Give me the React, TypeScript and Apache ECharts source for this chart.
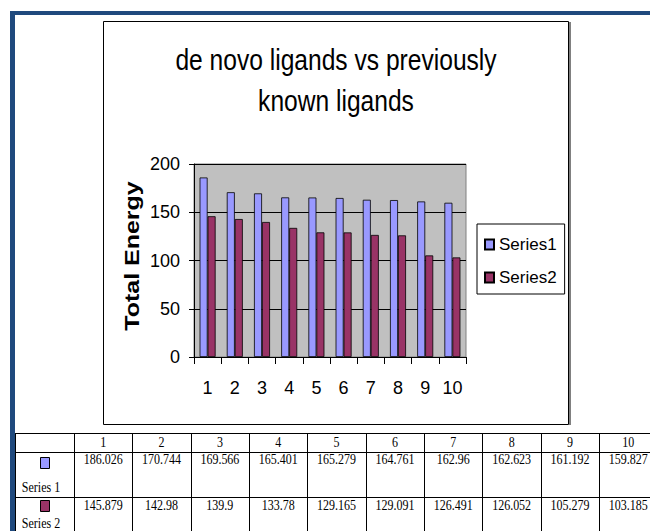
import React, { useEffect, useRef } from "react";
import * as echarts from "echarts";

const categories = ["1", "2", "3", "4", "5", "6", "7", "8", "9", "10"];
const series1 = [186.026, 170.744, 169.566, 165.401, 165.279, 164.761, 162.96, 162.623, 161.192, 159.827];
const series2 = [145.879, 142.98, 139.9, 133.78, 129.165, 129.091, 126.491, 126.052, 105.279, 103.185];
const seriesNames = ["Series1", "Series2"];
const tableRowLabels = ["Series 1", "Series 2"];
const seriesColors = ["#9999FF", "#993366"];
const titleText = "de novo ligands vs previously\nknown ligands";
const yAxisName = "Total Energy";
const yMin = 0;
const yMax = 200;
const yInterval = 50;

const SANS = "'Liberation Sans', Arial, sans-serif";
const SERIF = "'Liberation Serif', 'Times New Roman', serif";

function buildTable(): any[] {
  const els: any[] = [];
  const left = 15;
  const firstColRight = 74;
  const colW = 58.35;
  const top = 433;
  const row1 = 452;
  const row2 = 497;
  const bottom = 531;
  const right = 650;
  const line = (x1: number, y1: number, x2: number, y2: number) => ({
    type: "line",
    shape: { x1, y1, x2, y2 },
    style: { stroke: "#000", lineWidth: 1 },
    silent: true,
  });
  const txt = (x: number, y: number, text: string) => ({
    type: "text",
    x,
    y,
    scaleX: 0.8,
    silent: true,
    style: {
      text,
      x: 0,
      y: 0,
      fill: "#000",
      font: `15px ${SERIF}`,
      align: "center",
      verticalAlign: "middle",
      textAlign: "center",
      textVerticalAlign: "middle",
    },
  });
  [top, row1, row2].forEach((y) => els.push(line(left, y + 0.5, right, y + 0.5)));
  els.push(line(left + 0.5, top, left + 0.5, bottom));
  for (let i = 0; i <= categories.length; i++) {
    const x = Math.round(firstColRight + i * colW) + 0.5;
    if (x < right) els.push(line(x, top, x, bottom));
  }
  categories.forEach((c, i) => {
    const cx = firstColRight + (i + 0.5) * colW;
    els.push(txt(cx, 442, c));
    els.push(txt(cx, 459, String(series1[i])));
    els.push(txt(cx, 505, String(series2[i])));
  });
  const rowInfo = [
    { iconY: 457, textY: 487 },
    { iconY: 500, textY: 523 },
  ];
  tableRowLabels.forEach((lab, r) => {
    els.push({
      type: "rect",
      shape: { x: 40.5, y: rowInfo[r].iconY + 0.5, width: 9, height: 11 },
      style: { fill: seriesColors[r], stroke: "#000", lineWidth: 1 },
      silent: true,
    });
    els.push(txt(41, rowInfo[r].textY, lab));
  });
  return els;
}

export default function App() {
  const ref = useRef<HTMLDivElement>(null);
  useEffect(() => {
    if (!ref.current) return;
    const chart = echarts.init(ref.current, null, { renderer: "svg" });
    const option: any = {
      animation: false,
      backgroundColor: "#ffffff",
      legend: {
        orient: "vertical",
        left: 477,
        top: 224,
        padding: [12, 8, 8, 7],
        itemWidth: 9,
        itemHeight: 10,
        itemGap: 16,
        icon: "rect",
        borderColor: "#000",
        borderWidth: 1,
        textStyle: { fontFamily: SANS, fontSize: 17, color: "#000" },
        data: seriesNames,
      },
      grid: {
        left: 194,
        top: 164,
        width: 272,
        height: 193,
        show: true,
        backgroundColor: "#C0C0C0",
        borderColor: "#808080",
        borderWidth: 1,
      },
      xAxis: {
        type: "category",
        data: categories,
        axisLine: { lineStyle: { color: "#000", width: 1 } },
        axisTick: { show: true, length: 7, inside: false, alignWithLabel: false, lineStyle: { color: "#000" } },
        axisLabel: { interval: 0, fontFamily: SANS, fontSize: 18, color: "#000", margin: 22 },
        splitLine: { show: false },
      },
      yAxis: {
        type: "value",
        min: yMin,
        max: yMax,
        interval: yInterval,
        axisLine: { show: true, lineStyle: { color: "#000", width: 1 } },
        axisTick: { show: true, length: 5, lineStyle: { color: "#000" } },
        axisLabel: { fontFamily: SANS, fontSize: 18, color: "#000", margin: 14 },
        splitLine: { show: true, lineStyle: { color: "#000", width: 1 } },
      },
      series: [
        {
          name: seriesNames[0],
          type: "bar",
          data: series1,
          barWidth: 8,
          barGap: "0%",
          itemStyle: { color: seriesColors[0], borderColor: "#000", borderWidth: 0.8 },
        },
        {
          name: seriesNames[1],
          type: "bar",
          data: series2,
          barWidth: 8,
          barGap: "0%",
          itemStyle: { color: seriesColors[1], borderColor: "#000", borderWidth: 0.8 },
        },
      ],
      graphic: [
        { type: "rect", shape: { x: 10, y: 11, width: 640, height: 4 }, style: { fill: "#1F497D" }, silent: true },
        { type: "rect", shape: { x: 10, y: 11, width: 5, height: 520 }, style: { fill: "#1F497D" }, silent: true },
        {
          type: "rect",
          shape: { x: 103.5, y: 21.5, width: 465, height: 403 },
          style: { fill: "none", stroke: "#000", lineWidth: 1 },
          silent: true,
        },
        { type: "line", shape: { x1: 570, y1: 22, x2: 570, y2: 425 }, style: { stroke: "#808080", lineWidth: 2 }, silent: true },
        {
          type: "text",
          x: 336,
          y: 80,
          scaleX: 0.82,
          silent: true,
          style: {
            text: titleText,
            x: 0,
            y: 0,
            fill: "#000",
            font: `30px ${SANS}`,
            lineHeight: 41,
            align: "center",
            verticalAlign: "middle",
            textAlign: "center",
            textVerticalAlign: "middle",
          },
        },
        {
          type: "text",
          x: 132,
          y: 256,
          rotation: Math.PI / 2,
          scaleY: 0.8,
          silent: true,
          style: {
            text: yAxisName,
            x: 0,
            y: 0,
            fill: "#000",
            font: `bold 25px ${SANS}`,
            align: "center",
            verticalAlign: "middle",
            textAlign: "center",
            textVerticalAlign: "middle",
          },
        },
        ...buildTable(),
      ],
    };
    chart.setOption(option);
    return () => chart.dispose();
  }, []);
  return <div ref={ref} style={{ position: "absolute", left: 0, top: 0, width: 650, height: 531 }} />;
}
